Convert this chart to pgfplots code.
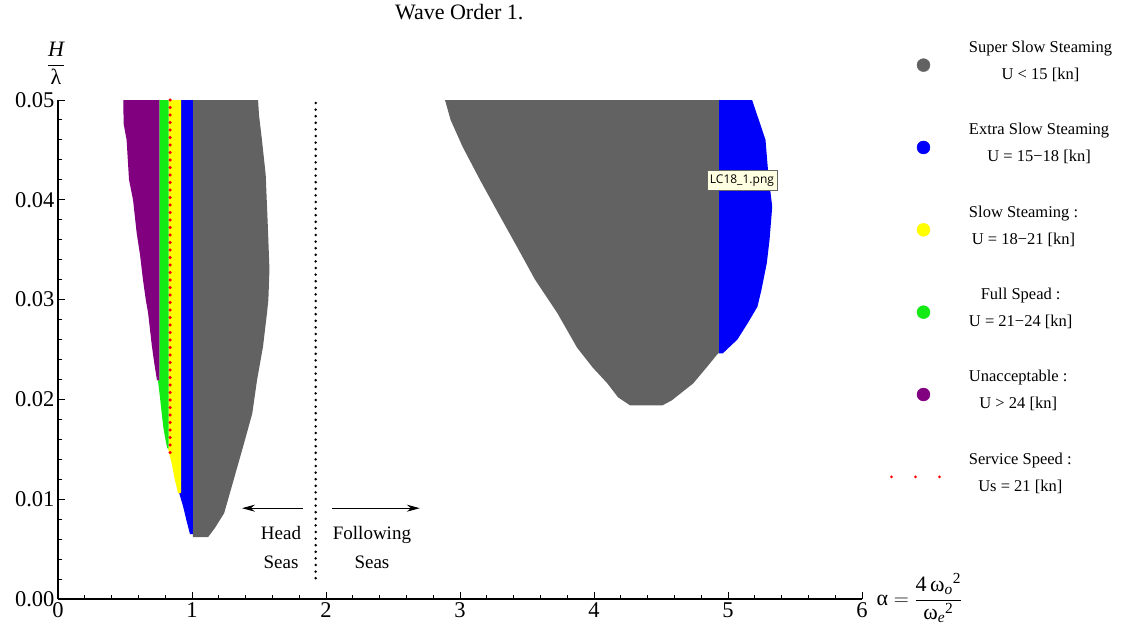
\documentclass[border=0pt]{standalone}
\usepackage{fontspec}
\setmainfont{Liberation Serif}
\newfontfamily\tipfont{Open Sans}
\usepackage{amsmath}
\usepackage{pgfplots}
\pgfplotsset{compat=1.18}
\usetikzlibrary{arrows.meta}
\definecolor{sgray}{RGB}{98,98,98}
\definecolor{sblue}{RGB}{0,0,250}
\definecolor{syellow}{RGB}{255,255,0}
\definecolor{sgreen}{RGB}{20,235,20}
\definecolor{spurple}{RGB}{128,0,128}
\definecolor{tipfill}{RGB}{255,255,225}
\begin{document}
\begin{tikzpicture}
\path[use as bounding box] (-58pt,-34pt) rectangle (1065pt,599pt);
\begin{axis}[
  scale only axis, width=804pt, height=499pt,
  xmin=0, xmax=6, ymin=0, ymax=0.05,
  clip=false,
  axis lines=left,
  axis line style={-, line width=1.1pt},
  every tick/.style={black, line width=1pt},
  tick align=inside,
  major tick length=7pt, minor tick length=4pt,
  xtick={0,1,2,3,4,5,6}, minor x tick num=4,
  ytick={0,0.01,0.02,0.03,0.04,0.05}, minor y tick num=4,
  scaled y ticks=false,
  yticklabel style={/pgf/number format/fixed, /pgf/number format/precision=2, /pgf/number format/fixed zerofill},
  /pgf/number format/assume math mode=true,
  tick label style={font=\fontsize{22.5}{24}\selectfont},
  title={Wave Order 1.},
  title style={at={(axis description cs:0.499,1.164)}, anchor=center, font=\fontsize{22}{24}\selectfont},
  xlabel={$\text{α} = \dfrac{\text{4}\,{\text{ω}_{\textit{o}}}^{\text{2}}}{{\text{ω}_{\textit{e}}}^{\text{2}}}$},
  xlabel style={at={(axis description cs:1.0137,0.002)}, anchor=west, font=\fontsize{22}{24}\selectfont},
  ylabel={$\dfrac{\textit{H}}{\text{λ}}$},
  ylabel style={rotate=-90, at={(axis description cs:-0.0025,1.074)}, anchor=center, font=\fontsize{22}{24}\selectfont},
  legend style={at={(axis description cs:1.0348,1.118)}, anchor=north west, draw=none, fill=none,
    inner sep=0pt, outer sep=0pt, row sep=42.4pt, column sep=27pt,
    nodes={inner sep=0pt}, cells={align=center},
    font=\fontsize{16.5}{27}\selectfont},
  legend cell align=left,
]
% ---------------- head seas lobe ----------------
\addplot[fill=sgray, draw=none, forget plot] coordinates {
 (1.007,0.05) (1.493,0.05) (1.50,0.0485) (1.522,0.046) (1.55,0.0425) (1.567,0.037)
 (1.578,0.033) (1.57,0.030) (1.56,0.0287) (1.53,0.0253) (1.485,0.0219) (1.45,0.0186)
 (1.38,0.0152) (1.31,0.0119) (1.24,0.0086) (1.17,0.0071) (1.12,0.0062) (1.007,0.0062)} -- cycle;
\addplot[fill=sblue, draw=none, forget plot] coordinates {
 (0.918,0.05) (1.007,0.05) (1.007,0.0065) (0.985,0.0065) (0.96,0.0078) (0.935,0.0092)
 (0.905,0.0106) (0.918,0.0106)} -- cycle;
\addplot[fill=syellow, draw=none, forget plot] coordinates {
 (0.825,0.05) (0.918,0.05) (0.918,0.0106) (0.896,0.0106) (0.873,0.0119) (0.848,0.0136)
 (0.821,0.0151) (0.825,0.0151)} -- cycle;
\addplot[fill=sgreen, draw=none, forget plot] coordinates {
 (0.756,0.05) (0.825,0.05) (0.825,0.0151) (0.815,0.0151) (0.799,0.0162) (0.786,0.0172)
 (0.774,0.0186) (0.761,0.0202) (0.746,0.0219) (0.756,0.0219)} -- cycle;
\addplot[fill=spurple, draw=none, forget plot] coordinates {
 (0.487,0.05) (0.756,0.05) (0.756,0.0219) (0.739,0.0219) (0.72,0.0235) (0.701,0.0253)
 (0.672,0.0287) (0.655,0.0300) (0.634,0.032) (0.612,0.0345) (0.587,0.0367) (0.56,0.040)
 (0.53,0.042) (0.512,0.046) (0.49,0.0476)} -- cycle;
% service speed dots
\addplot[red, line width=3.5pt, line cap=round, dash pattern=on 0pt off 7.5pt, forget plot]
 coordinates {(0.836,0.05) (0.836,0.0144)};
% ---------------- following seas lobe ----------------
\addplot[fill=sgray, draw=none, forget plot] coordinates {
 (2.888,0.05) (4.933,0.05) (4.933,0.0246) (4.925,0.0246) (4.84,0.0232) (4.74,0.0216)
 (4.58,0.0199) (4.51,0.0194) (4.27,0.0194) (4.18,0.0202) (4.10,0.0216) (3.99,0.0232)
 (3.873,0.0252) (3.724,0.0287) (3.56,0.0320) (3.425,0.0353) (3.284,0.0387) (3.149,0.0420)
 (3.02,0.0453) (2.93,0.0480)} -- cycle;
\addplot[fill=sblue, draw=none, forget plot] coordinates {
 (4.933,0.05) (5.18,0.05) (5.24,0.0476) (5.28,0.046) (5.30,0.0427) (5.33,0.0393)
 (5.31,0.036) (5.29,0.0337) (5.25,0.031) (5.22,0.0293) (5.15,0.0277) (5.07,0.026)
 (4.96,0.0246) (4.933,0.0246)} -- cycle;
% ---------------- separator and arrows ----------------
\addplot[black, line width=2.8pt, line cap=round, dash pattern=on 0pt off 6.6pt, forget plot]
 coordinates {(1.923,0.0497) (1.923,0.0016)};
\addplot[black, line width=1pt, -{Stealth[length=13pt,width=7pt]}, forget plot]
 coordinates {(1.828,0.0091) (1.373,0.0091)};
\addplot[black, line width=1pt, -{Stealth[length=13pt,width=7pt]}, forget plot]
 coordinates {(2.045,0.0091) (2.70,0.0091)};
\node[align=center, font=\fontsize{19}{29}\selectfont] at (axis cs:1.664,0.0052) {Head\\Seas};
\node[align=center, font=\fontsize{19}{29}\selectfont] at (axis cs:2.343,0.0052) {Following\\Seas};
% tooltip
\node[draw=black!60, fill=tipfill, line width=0.6pt, inner xsep=3pt, inner ysep=4pt,
      font=\tipfont\fontsize{12}{14}\selectfont] at (axis cs:5.104,0.04193) {LC18\_1.png};
% ---------------- legend ----------------
\addlegendimage{legend image code/.code={\path[draw=none,fill=none] (0pt,-8pt) rectangle (50pt,8pt); \fill[sgray] (32pt,-4pt) circle (6.5pt);}}
\addlegendentry{Super Slow Steaming\\U < 15 [kn]}
\addlegendimage{legend image code/.code={\path[draw=none,fill=none] (0pt,-8pt) rectangle (50pt,8pt); \fill[sblue] (32pt,-4pt) circle (6.5pt);}}
\addlegendentry{Extra Slow Steaming\\U = 15−18 [kn]}
\addlegendimage{legend image code/.code={\path[draw=none,fill=none] (0pt,-8pt) rectangle (50pt,8pt); \fill[syellow] (32pt,-4pt) circle (6.5pt);}}
\addlegendentry{Slow Steaming :\\U = 18−21 [kn]}
\addlegendimage{legend image code/.code={\path[draw=none,fill=none] (0pt,-8pt) rectangle (50pt,8pt); \fill[sgreen] (32pt,-4pt) circle (6.5pt);}}
\addlegendentry{Full Spead :\\U = 21−24 [kn]}
\addlegendimage{legend image code/.code={\path[draw=none,fill=none] (0pt,-8pt) rectangle (50pt,8pt); \fill[spurple] (32pt,-4pt) circle (6.5pt);}}
\addlegendentry{Unacceptable :\\U > 24 [kn]}
\addlegendimage{legend image code/.code={\path[draw=none,fill=none] (0pt,-8pt) rectangle (50pt,8pt); \draw[red, line width=3pt, line cap=round, dash pattern=on 0pt off 24pt] (0pt,-4pt) -- (49pt,-4pt);}}
\addlegendentry{Service Speed :\\Us = 21 [kn]}
\end{axis}
\end{tikzpicture}
\end{document}
